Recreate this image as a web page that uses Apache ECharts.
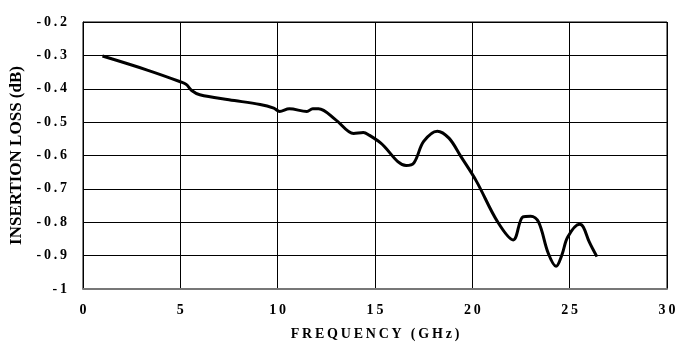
<!DOCTYPE html>
<html>
<head>
<meta charset="utf-8">
<script src="https://cdn.jsdelivr.net/npm/echarts@6/dist/echarts.min.js"></script>
<style>
  html, body { margin: 0; padding: 0; background: #fff; }
  #chart { width: 691px; height: 346px; }
</style>
</head>
<body>
<div id="chart"></div>
<script>
// frequency (GHz) and insertion loss (dB)
const freq = [1.0, 3.3, 5.0, 5.3, 5.6, 6.0, 7.5, 9.1, 9.8, 10.1, 10.6, 11.5, 11.8, 12.1,
  13.0, 13.9, 14.4, 14.7, 15.3, 16.6, 17.0, 17.5, 18.2, 18.8, 19.4, 20.2, 21.3, 22.1,
  22.6, 23.0, 23.4, 23.9, 24.3, 24.6, 24.9, 25.5, 25.7, 26.0, 26.4];
const loss = [-0.302, -0.344, -0.379, -0.387, -0.406, -0.418, -0.433, -0.447, -0.458, -0.468,
  -0.460, -0.468, -0.460, -0.460, -0.494, -0.534, -0.531, -0.539, -0.563, -0.630, -0.622,
  -0.558, -0.527, -0.548, -0.602, -0.676, -0.799, -0.853, -0.784, -0.782, -0.799, -0.893,
  -0.932, -0.898, -0.844, -0.806, -0.814, -0.858, -0.903];

const font = "Liberation Serif, Times New Roman, serif";
// the original typesetting spreads the letters out a little
const spread = (s) => String(s).split("").join("\u2009");

const chart = echarts.init(document.getElementById("chart"));

chart.setOption({
  animation: false,
  textStyle: { fontFamily: font },
  grid: {
    left: 83,
    right: 24,
    top: 22,
    bottom: 53,
    show: true,
    borderColor: "#000",
    borderWidth: 1,
  },
  xAxis: {
    type: "value",
    min: 0,
    max: 30,
    interval: 5,
    name: spread("FREQUENCY (GHz)"),
    nameLocation: "middle",
    nameGap: 38,
    nameTextStyle: { fontFamily: font, fontWeight: "bold", fontSize: 14, color: "#000" },
    axisLine: { show: true, onZero: false, lineStyle: { color: "#777", width: 2 } },
    axisTick: { show: false },
    axisLabel: {
      color: "#000",
      fontFamily: font,
      fontWeight: "bold",
      fontSize: 14,
      margin: 14,
      formatter: spread,
    },
    splitLine: { show: true, lineStyle: { color: "#000", width: 1 } },
  },
  yAxis: {
    type: "value",
    min: -1,
    max: -0.2,
    interval: 0.1,
    name: "INSERTION LOSS (dB)",
    nameLocation: "middle",
    nameGap: 55,
    nameTextStyle: { fontFamily: font, fontWeight: "bold", fontSize: 17, color: "#000" },
    axisLine: { show: true, lineStyle: { color: "#000", width: 1 } },
    axisTick: { show: false },
    axisLabel: {
      color: "#000",
      fontFamily: font,
      fontWeight: "bold",
      fontSize: 14,
      margin: 16,
      formatter: spread,
    },
    splitLine: { show: true, lineStyle: { color: "#000", width: 1 } },
  },
  series: [
    {
      type: "line",
      data: freq.map((f, i) => [f, loss[i]]),
      showSymbol: false,
      smooth: 0.35,
      lineStyle: { color: "#000", width: 3 },
    },
  ],
});
</script>
</body>
</html>
